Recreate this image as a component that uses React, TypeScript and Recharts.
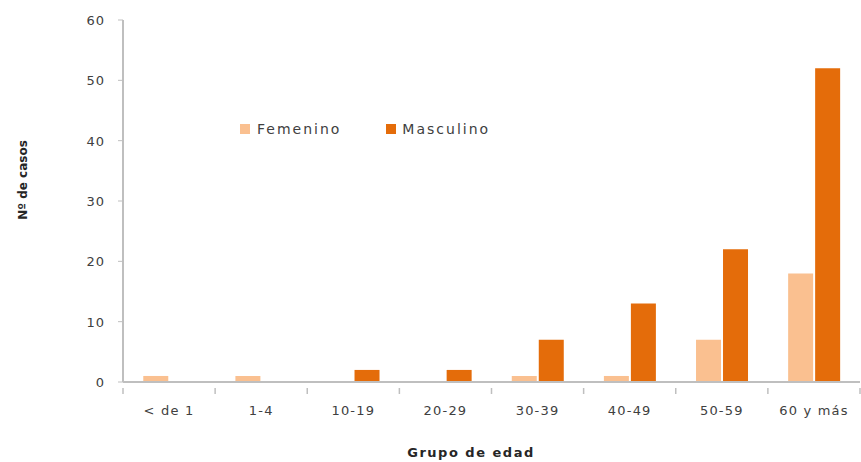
import React from 'react';
import { BarChart, Bar, XAxis, YAxis } from 'recharts';

const categories = ['< de 1', '1-4', '10-19', '20-29', '30-39', '40-49', '50-59', '60 y más'];
const femenino = [1, 1, 0, 0, 1, 1, 7, 18];
const masculino = [0, 0, 2, 2, 7, 13, 22, 52];
const yTicks = [0, 10, 20, 30, 40, 50, 60];
const seriesNames = ['Femenino', 'Masculino'];

const data = categories.map((c, i) => ({ name: c, Femenino: femenino[i], Masculino: masculino[i] }));

const W = 861;
const H = 462;
const M = { top: 20, right: 1, bottom: 50, left: 0 };
const Y_W = 123;
const PLOT_W = W - M.left - M.right - Y_W;
const BAND = PLOT_W / categories.length;

const FEM = '#FAC090';
const MAS = '#E46C0A';
const AXIS = '#BFBFBF';
const TXT = '#404040';
const FONT = '"DejaVu Sans", sans-serif';

const XTick = (props: any) => {
  const { x, y, payload, index } = props;
  const left = x - BAND / 2;
  const right = x + BAND / 2;
  return (
    <g>
      <line x1={left} x2={left} y1={y - 2} y2={y + 4} stroke={AXIS} strokeWidth={1.5} />
      {index === categories.length - 1 && (
        <line x1={right} x2={right} y1={y - 2} y2={y + 4} stroke={AXIS} strokeWidth={1.5} />
      )}
      <text x={x} y={y + 25} textAnchor="middle" fontSize={13} letterSpacing={1.2} fill={TXT} fontFamily={FONT}>
        {payload.value}
      </text>
    </g>
  );
};

const YTick = (props: any) => {
  const { x, y, payload } = props;
  return (
    <text x={x} y={y + 5} textAnchor="end" fontSize={13} letterSpacing={1} fill={TXT} fontFamily={FONT}>
      {payload.value}
    </text>
  );
};

const LegendBox = () => (
  <div
    style={{
      position: 'absolute',
      left: 240,
      top: 121,
      display: 'flex',
      alignItems: 'center',
      fontFamily: FONT,
      fontSize: 14,
      letterSpacing: 2,
      color: TXT,
      whiteSpace: 'nowrap',
    }}
  >
    <span style={{ display: 'inline-block', width: 10, height: 10, background: FEM, marginRight: 7 }} />
    <span style={{ marginRight: 45 }}>{seriesNames[0]}</span>
    <span style={{ display: 'inline-block', width: 10, height: 10, background: MAS, marginRight: 6 }} />
    <span>{seriesNames[1]}</span>
  </div>
);

export default function App() {
  return (
    <div style={{ position: 'absolute', left: 0, top: 0, width: W, height: H, background: '#fff' }}>
      <BarChart
        width={W}
        height={H}
        data={data}
        margin={M}
        barCategoryGap="22%"
        barGap={2}
      >
        <XAxis
          dataKey="name"
          height={30}
          axisLine={{ stroke: AXIS, strokeWidth: 2 }}
          tickLine={false}
          tick={<XTick />}
          interval={0}
        />
        <YAxis
          width={Y_W}
          domain={[0, 60]}
          ticks={yTicks}
          interval={0}
          axisLine={{ stroke: AXIS, strokeWidth: 2 }}
          tickLine={{ stroke: AXIS }}
          tickSize={5}
          tickMargin={13}
          tick={<YTick />}
        />
        <Bar dataKey="Femenino" fill={FEM} isAnimationActive={false} />
        <Bar dataKey="Masculino" fill={MAS} isAnimationActive={false} />
        <text
          x={23}
          y={180}
          transform="rotate(-90 23 180)"
          textAnchor="middle"
          dominantBaseline="central"
          fontSize={12}
          fontWeight="bold"
          fill="#262626"
          fontFamily={FONT}
        >
          Nº de casos
        </text>
        <text
          x={471}
          y={457}
          textAnchor="middle"
          fontSize={13}
          letterSpacing={1.5}
          fontWeight="bold"
          fill="#262626"
          fontFamily={FONT}
        >
          Grupo de edad
        </text>
      </BarChart>
      <LegendBox />
    </div>
  );
}
